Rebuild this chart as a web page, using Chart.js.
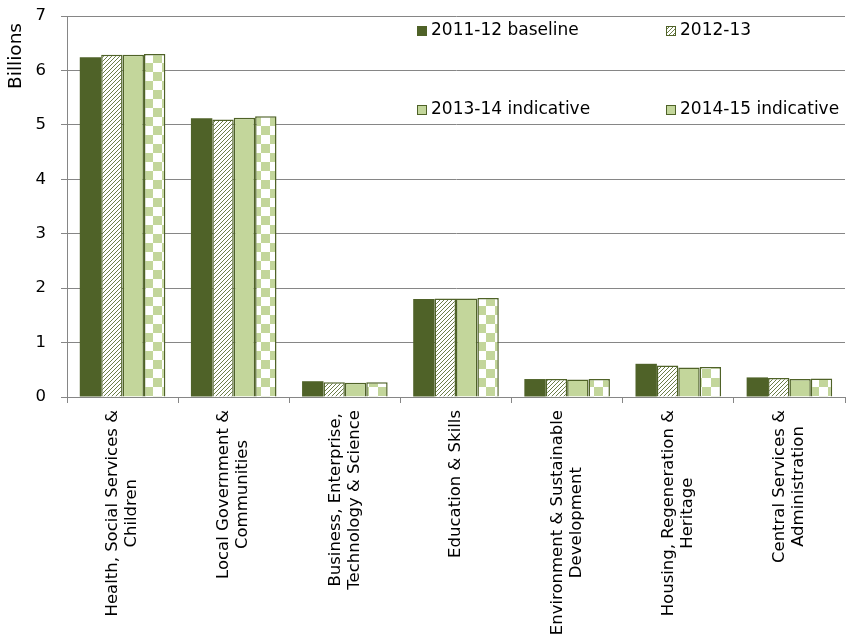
<!DOCTYPE html>
<html><head><meta charset="utf-8">
<script src="https://cdn.jsdelivr.net/npm/chart.js@4.4.1/dist/chart.umd.min.js"></script>
<style>html,body{margin:0;padding:0;background:#fff}#wrap{width:850px;height:640px}</style>
</head><body><div id="wrap"><canvas id="c" width="850" height="640"></canvas></div>
<script>
// ---- data ----
const categories = [
  ["Health, Social Services &", "Children"],
  ["Local Government &", "Communities"],
  ["Business, Enterprise,", "Technology & Science"],
  ["Education & Skills"],
  ["Environment & Sustainable", "Development"],
  ["Housing, Regeneration &", "Heritage"],
  ["Central Services &", "Administration"]
];
const seriesNames = ["2011-12 baseline", "2012-13", "2013-14 indicative", "2014-15 indicative"];
const values201112 = [6.24, 5.12, 0.29, 1.80, 0.33, 0.61, 0.36];
const values201213 = [6.29, 5.10, 0.27, 1.81, 0.33, 0.58, 0.35];
const values201314 = [6.29, 5.13, 0.26, 1.81, 0.32, 0.54, 0.33];
const values201415 = [6.30, 5.16, 0.27, 1.82, 0.33, 0.55, 0.34];
const yTicks = [0, 1, 2, 3, 4, 5, 6, 7];
const yTitle = "Billions";

// ---- styles ----
const DARK = '#4f6228';
const LIGHT = '#c3d69b';
const GRID = '#868686';
const FONT = '"DejaVu Sans", sans-serif';

const canvas = document.getElementById('c');
const ctx = canvas.getContext('2d');

function stripePattern() {
  const c = document.createElement('canvas'); c.width = 4; c.height = 4;
  const g = c.getContext('2d');
  g.fillStyle = '#ffffff'; g.fillRect(0, 0, 4, 4);
  g.strokeStyle = '#6b7d47'; g.lineWidth = 1;
  g.beginPath();
  g.moveTo(-1, 5); g.lineTo(5, -1);
  g.moveTo(-1, 1); g.lineTo(1, -1);
  g.moveTo(3, 5); g.lineTo(5, 3);
  g.stroke();
  return ctx.createPattern(c, 'repeat');
}
function checkerPattern() {
  const s = 9;
  const c = document.createElement('canvas'); c.width = 2 * s; c.height = 2 * s;
  const g = c.getContext('2d');
  g.fillStyle = '#ffffff'; g.fillRect(0, 0, 2 * s, 2 * s);
  g.fillStyle = LIGHT; g.fillRect(s, 0, s, s); g.fillRect(0, s, s, s);
  return ctx.createPattern(c, 'repeat');
}
const stripes = stripePattern();
const checker = checkerPattern();

const fills = [DARK, stripes, LIGHT, checker];
const legendFills = [DARK, stripes, LIGHT, LIGHT];
const seriesValues = [values201112, values201213, values201314, values201415];

const legendPlugin = {
  id: 'insideLegend',
  afterDraw(chart) {
    const c = chart.ctx;
    const pos = [[417, 31], [666, 31], [417, 110], [666, 110]];
    c.save();
    c.font = '17px ' + FONT;
    c.textBaseline = 'middle';
    c.textAlign = 'left';
    seriesNames.forEach((name, i) => {
      const [x, y] = pos[i];
      c.fillStyle = legendFills[i];
      c.fillRect(x, y - 5, 10, 10);
      if (i > 0) { c.strokeStyle = DARK; c.lineWidth = 1; c.strokeRect(x + 0.5, y - 4.5, 9, 9); }
      c.fillStyle = '#000';
      c.fillText(name, x + 14, y);
    });
    c.restore();
  }
};

const axisTitlePlugin = {
  id: 'axisTitle',
  afterDraw(chart) {
    const c = chart.ctx;
    const ys = chart.scales.y;
    c.save();
    c.font = '18.5px ' + FONT;
    c.fillStyle = '#000';
    c.textAlign = 'right';
    c.textBaseline = 'middle';
    c.translate(16, ys.top + 7);
    c.rotate(-Math.PI / 2);
    c.fillText(yTitle, 0, 0);
    c.restore();
  }
};

const catLabelPlugin = {
  id: 'catLabels',
  afterDraw(chart) {
    const xs = chart.scales.x;
    const c = chart.ctx;
    c.save();
    c.font = '16.5px ' + FONT;
    c.fillStyle = '#000';
    c.textAlign = 'center';
    c.textBaseline = 'middle';
    categories.forEach((lines, i) => {
      const x = xs.getPixelForValue(i);
      const y0 = xs.top + 13;
      const W = Math.max(...lines.map(l => c.measureText(l).width));
      c.save();
      c.translate(x, y0);
      c.rotate(-Math.PI / 2);
      lines.forEach((l, j) => c.fillText(l, -W / 2, (j - (lines.length - 1) / 2) * 19));
      c.restore();
    });
    c.restore();
  }
};

new Chart(ctx, {
  type: 'bar',
  data: {
    labels: categories,
    datasets: seriesNames.map((n, i) => ({
      label: n,
      data: seriesValues[i],
      backgroundColor: fills[i],
      borderColor: DARK,
      borderWidth: i === 0 ? 0 : 1.5,
      categoryPercentage: 0.77,
      barPercentage: 1.0
    }))
  },
  options: {
    responsive: false,
    animation: false,
    layout: { padding: { top: 16, right: 5, left: 0, bottom: 0 } },
    plugins: { legend: { display: false }, tooltip: { enabled: false } },
    scales: {
      x: {
        grid: { offset: true, drawOnChartArea: false, drawTicks: true, tickLength: 6, color: GRID, lineWidth: 1 },
        border: { color: GRID, width: 1 },
        ticks: { display: false },
        afterFit(s) { s.height = 243; s.paddingLeft = 0; s.paddingRight = 0; }
      },
      y: {
        min: 0, max: 7,
        afterBuildTicks(s) { s.ticks = yTicks.map(v => ({ value: v })); },
        ticks: { font: { family: FONT, size: 16.5 }, color: '#000', padding: 15 },
        grid: { color: GRID, lineWidth: 1, tickLength: 6 },
        border: { color: GRID, width: 1 },
        title: { display: false },
        afterFit(s) { s.width = 67; s.paddingTop = 0; s.paddingBottom = 0; }
      }
    }
  },
  plugins: [legendPlugin, catLabelPlugin, axisTitlePlugin]
});
</script>
</body></html>
